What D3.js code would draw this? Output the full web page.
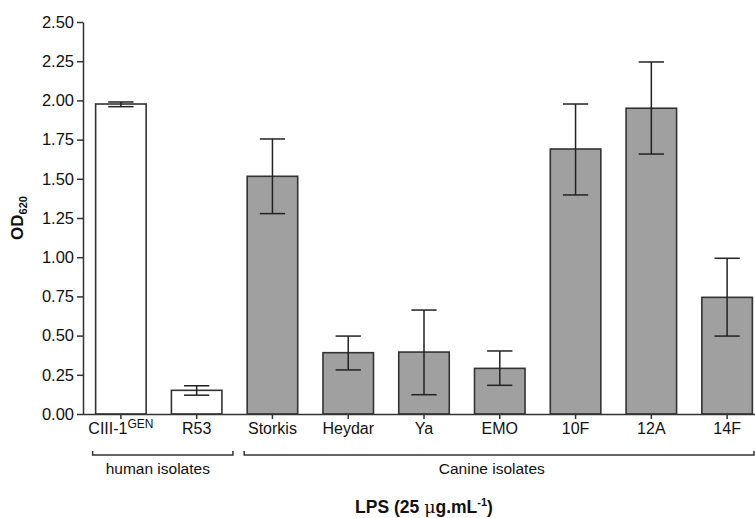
<!DOCTYPE html>
<html>
<head>
<meta charset="utf-8">
<script src="https://cdn.jsdelivr.net/npm/d3@7"></script>
<style>
  body { margin: 0; background: #fff; }
  text { font-family: "Liberation Sans", Arial, sans-serif; fill: #111; }
</style>
</head>
<body>
<div id="chart"></div>
<script>
const categories = ["CIII-1", "R53", "Storkis", "Heydar", "Ya", "EMO", "10F", "12A", "14F"];
const means = [1.977, 0.151, 1.516, 0.391, 0.395, 0.291, 1.690, 1.950, 0.744];
const errLow = [1.96, 0.12, 1.278, 0.281, 0.123, 0.183, 1.397, 1.658, 0.497];
const errHigh = [1.99, 0.18, 1.754, 0.497, 0.663, 0.402, 1.977, 2.245, 0.993];
const groups = ["human", "human", "canine", "canine", "canine", "canine", "canine", "canine", "canine"];
const yTicks = [0, 0.25, 0.5, 0.75, 1, 1.25, 1.5, 1.75, 2, 2.25, 2.5];
const brackets = [
    { label: "human isolates", from: "CIII-1", to: "R53" },
    { label: "Canine isolates", from: "Storkis", to: "14F" }
];

const width = 755;
const height = 518;
const plotLeft = 83;
const plotTop = 22;
const plotBottom = 414;

const svg = d3.select("#chart")
    .append("svg")
    .attr("width", width)
    .attr("height", height);

const x = d3.scaleBand()
    .domain(categories)
    .range([plotLeft, 765])
    .paddingInner(1 / 3)
    .paddingOuter(1 / 6);

const y = d3.scaleLinear()
    .domain([0, 2.5])
    .range([plotBottom, plotTop]);

// bars + error bars
categories.forEach((c, i) => {
    svg.append("rect")
        .attr("x", x(c))
        .attr("y", y(means[i]))
        .attr("width", x.bandwidth())
        .attr("height", y(0) - y(means[i]))
        .attr("fill", groups[i] === "human" ? "#fff" : "#a0a0a0")
        .attr("stroke", "#333")
        .attr("stroke-width", 1.6);

    const cx = x(c) + x.bandwidth() / 2;
    const cap = x.bandwidth() / 4;
    const g = svg.append("g")
        .attr("stroke", "#222")
        .attr("stroke-width", 1.5);
    g.append("line")
        .attr("x1", cx).attr("x2", cx)
        .attr("y1", y(errLow[i])).attr("y2", y(errHigh[i]));
    [errLow[i], errHigh[i]].forEach(v => {
        g.append("line")
            .attr("x1", cx - cap).attr("x2", cx + cap)
            .attr("y1", y(v)).attr("y2", y(v));
    });
});

// y axis
const yAxis = svg.append("g")
    .attr("transform", `translate(${plotLeft},0)`)
    .call(d3.axisLeft(y).tickValues(yTicks).tickFormat(d3.format(".2f")).tickSize(6).tickPadding(3).tickSizeOuter(0));
yAxis.selectAll("text")
    .attr("font-size", "16.5px")
    .attr("font-family", "Liberation Sans, Arial, sans-serif")
    .attr("fill", "#111");
yAxis.selectAll("line, path").attr("stroke", "#333").attr("stroke-width", 1.5);

// x axis
const xAxis = svg.append("g")
    .attr("transform", `translate(0,${plotBottom})`)
    .call(d3.axisBottom(x).tickSize(5).tickPadding(4).tickSizeOuter(0));
xAxis.select(".domain").attr("d", `M${plotLeft},0.5H${width}`);
xAxis.selectAll("line, path").attr("stroke", "#333").attr("stroke-width", 1.5);
xAxis.selectAll("text")
    .attr("font-size", "16px")
    .attr("font-family", "Liberation Sans, Arial, sans-serif")
    .attr("fill", "#111")
    .each(function (d) {
        if (d === "CIII-1") {
            d3.select(this).text(null);
            d3.select(this).append("tspan").text("CIII-1");
            d3.select(this).append("tspan")
                .attr("font-size", "12px")
                .attr("dy", "-6")
                .text("GEN");
        }
    });

// group brackets
brackets.forEach(b => {
    const x1 = x(b.from) - 3;
    const x2 = Math.min(x(b.to) + x.bandwidth() + 11, width - 1);
    svg.append("path")
        .attr("d", `M${x1},451V455H${x2}V451`)
        .attr("fill", "none")
        .attr("stroke", "#333")
        .attr("stroke-width", 1.5);
    svg.append("text")
        .attr("x", b.label === "human isolates" ? (x1 + x2) / 2 - 5 : x("EMO") + x.bandwidth() / 2 - 8)
        .attr("y", 474)
        .attr("text-anchor", "middle")
        .attr("font-size", "15.5px")
        .text(b.label);
});

// axis titles
const yTitle = svg.append("text")
    .attr("transform", `translate(23,${(plotTop + plotBottom) / 2}) rotate(-90)`)
    .attr("text-anchor", "middle")
    .attr("font-size", "17px")
    .attr("font-weight", "bold");
yTitle.append("tspan").text("OD");
yTitle.append("tspan").attr("font-size", "11px").attr("dy", "4").text("620");

const xTitle = svg.append("text")
    .attr("x", 424)
    .attr("y", 513)
    .attr("text-anchor", "middle")
    .attr("font-size", "17.5px")
    .attr("font-weight", "bold");
xTitle.append("tspan").text("LPS (25 ");
xTitle.append("tspan").attr("font-weight", "normal").attr("font-family", "DejaVu Serif, serif").text("μ");
xTitle.append("tspan").text("g.mL");
xTitle.append("tspan").attr("font-size", "11px").attr("dy", "-7").text("-1");
xTitle.append("tspan").attr("dy", "7").text(")");
</script>
</body>
</html>
